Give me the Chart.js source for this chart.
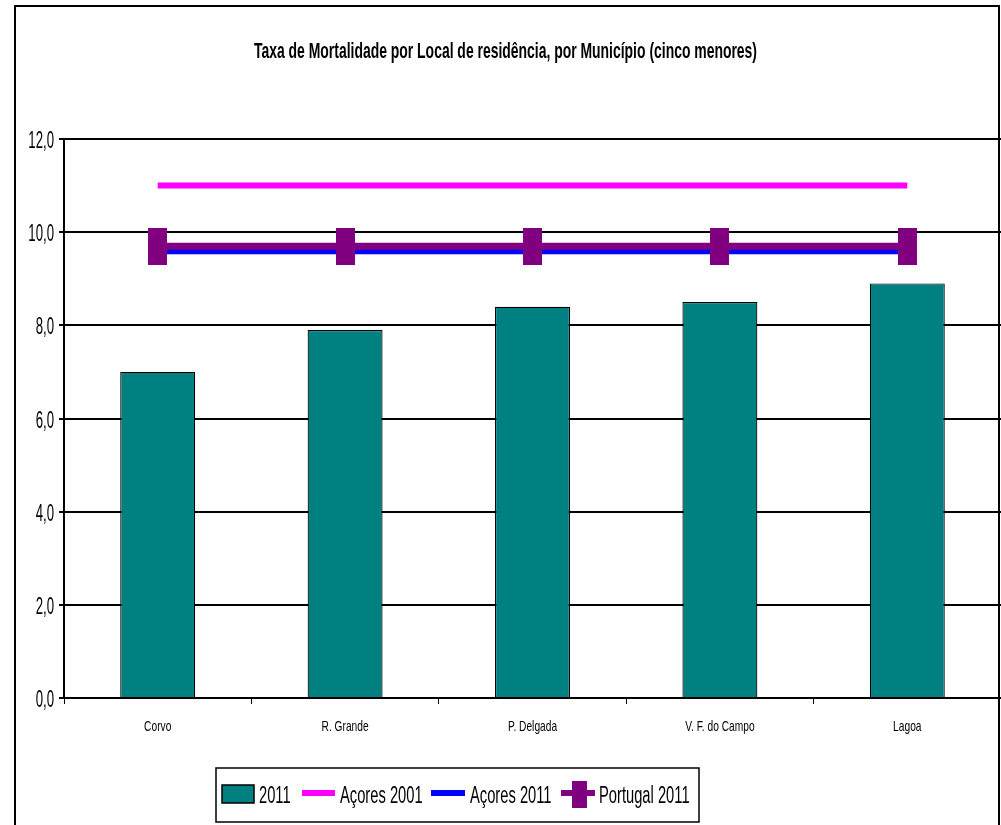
<!DOCTYPE html>
<html><head><meta charset="utf-8">
<script src="https://cdn.jsdelivr.net/npm/chart.js@4"></script>
<style>html,body{margin:0;padding:0;background:#fff;overflow:hidden}#wrap{width:1001px;height:825px;position:relative}</style>
</head><body><div id="wrap"><canvas id="c" width="1001" height="825"></canvas></div>
<script>
const chartTitle = 'Taxa de Mortalidade por Local de residência, por Município (cinco menores)';
const categories = ['Corvo', 'R. Grande', 'P. Delgada', 'V. F. do Campo', 'Lagoa'];
const seriesNames = ['2011', 'Açores 2001', 'Açores 2011', 'Portugal 2011'];
const values2011 = [7.0, 7.9, 8.4, 8.5, 8.9];
const acores2001 = [11.0, 11.0, 11.0, 11.0, 11.0];
const acores2011 = [9.6, 9.6, 9.6, 9.6, 9.6];
const portugal2011 = [9.7, 9.7, 9.7, 9.7, 9.7];
const yMin = 0, yMax = 12, yStep = 2;

const FONT = "'Liberation Sans', Arial, sans-serif";
const TEAL = '#008080', PINK = '#FF00FF', BLUE = '#0000FF', PURPLE = '#800080';

// draw horizontally condensed text (the original uses a narrow face)
function narrowText(ctx, text, x, y, font, sx, align) {
  ctx.save();
  ctx.font = font;
  ctx.textBaseline = 'alphabetic';
  ctx.textAlign = align;
  ctx.translate(x, y);
  ctx.scale(sx, 1);
  ctx.fillText(text, 0, 0);
  ctx.restore();
}

const marker = document.createElement('canvas');
marker.width = 19; marker.height = 37;
{ const m = marker.getContext('2d'); m.fillStyle = PURPLE; m.fillRect(0, 0, 19, 37); }

const framePlugin = {
  id: 'frame',
  beforeDraw(chart) {
    const ctx = chart.ctx;
    ctx.save();
    ctx.fillStyle = '#fff';
    ctx.fillRect(0, 0, chart.width, chart.height);
    ctx.strokeStyle = '#000';
    ctx.lineWidth = 2;
    ctx.beginPath();
    ctx.moveTo(15, 830); ctx.lineTo(15, 6); ctx.lineTo(999, 6); ctx.lineTo(999, 830);
    ctx.stroke();
    ctx.fillStyle = '#000';
    const tf = 'bold 22px ' + FONT;
    ctx.font = tf;
    const tw = ctx.measureText(chartTitle).width;
    narrowText(ctx, chartTitle, 505.5, 58, tf, 503 / tw, 'center');
    ctx.restore();
  },
  afterDraw(chart) {
    const ctx = chart.ctx;
    const ds = chart.data.datasets;
    ctx.save();
    ctx.fillStyle = '#000';
    const ys = chart.scales.y;
    ys.ticks.forEach((t, i) => {
      const py = ys.getPixelForTick(i);
      narrowText(ctx, t.value.toFixed(1).replace('.', ','), 54, py + 9, '24px ' + FONT, 0.55, 'right');
    });
    const xs = chart.scales.x;
    categories.forEach((c, i) => {
      narrowText(ctx, c, xs.getPixelForTick(i), xs.top + 33, '15px ' + FONT, 0.68, 'center');
    });
    // legend
    ctx.fillStyle = '#fff';
    ctx.fillRect(216, 768, 483, 54);
    ctx.strokeStyle = '#000';
    ctx.lineWidth = 1.5;
    ctx.strokeRect(216, 768, 483, 54);
    const cy = 793;
    ctx.fillStyle = ds[0].backgroundColor;
    ctx.fillRect(222, 785, 32, 18);
    ctx.strokeStyle = '#000';
    ctx.lineWidth = 1.5;
    ctx.strokeRect(222, 785, 32, 18);
    ctx.lineWidth = 6;
    ctx.strokeStyle = ds[1].borderColor;
    ctx.beginPath(); ctx.moveTo(302, cy); ctx.lineTo(335, cy); ctx.stroke();
    ctx.strokeStyle = ds[2].borderColor;
    ctx.beginPath(); ctx.moveTo(431, cy); ctx.lineTo(465, cy); ctx.stroke();
    ctx.strokeStyle = ds[3].borderColor;
    ctx.beginPath(); ctx.moveTo(561, cy); ctx.lineTo(595, cy); ctx.stroke();
    ctx.fillStyle = ds[3].borderColor;
    ctx.fillRect(572, 781, 15, 27);
    ctx.fillStyle = '#000';
    const lx = [259, 340, 470, 599];
    ds.forEach((d, i) => narrowText(ctx, d.label, lx[i], 803, '23px ' + FONT, 0.64, 'left'));
    ctx.restore();
  }
};

new Chart(document.getElementById('c'), {
  data: {
    labels: categories,
    datasets: [
      { type: 'bar', label: seriesNames[0], data: values2011, backgroundColor: TEAL, borderColor: '#000', borderWidth: 1.2, categoryPercentage: 1, barPercentage: 0.4, order: 4 },
      { type: 'line', label: seriesNames[1], data: acores2001, borderColor: PINK, backgroundColor: PINK, borderWidth: 6, pointRadius: 0, borderCapStyle: 'butt', order: 3 },
      { type: 'line', label: seriesNames[2], data: acores2011, borderColor: BLUE, backgroundColor: BLUE, borderWidth: 7, pointRadius: 0, borderCapStyle: 'butt', order: 2 },
      { type: 'line', label: seriesNames[3], data: portugal2011, borderColor: PURPLE, backgroundColor: PURPLE, borderWidth: 7, pointStyle: marker, pointRadius: 10, pointBorderWidth: 0, borderCapStyle: 'butt', order: 1 }
    ]
  },
  options: {
    responsive: false,
    animation: false,
    events: [],
    layout: { autoPadding: false, padding: { top: 139, left: 0, right: 0, bottom: 87 } },
    plugins: { legend: { display: false }, title: { display: false }, tooltip: { enabled: false } },
    scales: {
      x: {
        offset: true,
        grid: { offset: true, drawOnChartArea: false, drawTicks: true, tickLength: 6, color: '#000', lineWidth: 1 },
        border: { color: '#000', width: 2 },
        ticks: { display: false, maxRotation: 0, autoSkip: false },
        afterFit: s => { s.height = 40; s.paddingLeft = 0; s.paddingRight = 0; }
      },
      y: {
        min: yMin, max: yMax,
        ticks: { display: false, stepSize: yStep },
        grid: { color: '#000', lineWidth: 2, tickLength: 5 },
        border: { color: '#000', width: 2 },
        afterFit: s => { s.width = 64; s.paddingTop = 0; s.paddingBottom = 0; }
      }
    }
  },
  plugins: [framePlugin]
});
</script>
</body></html>
